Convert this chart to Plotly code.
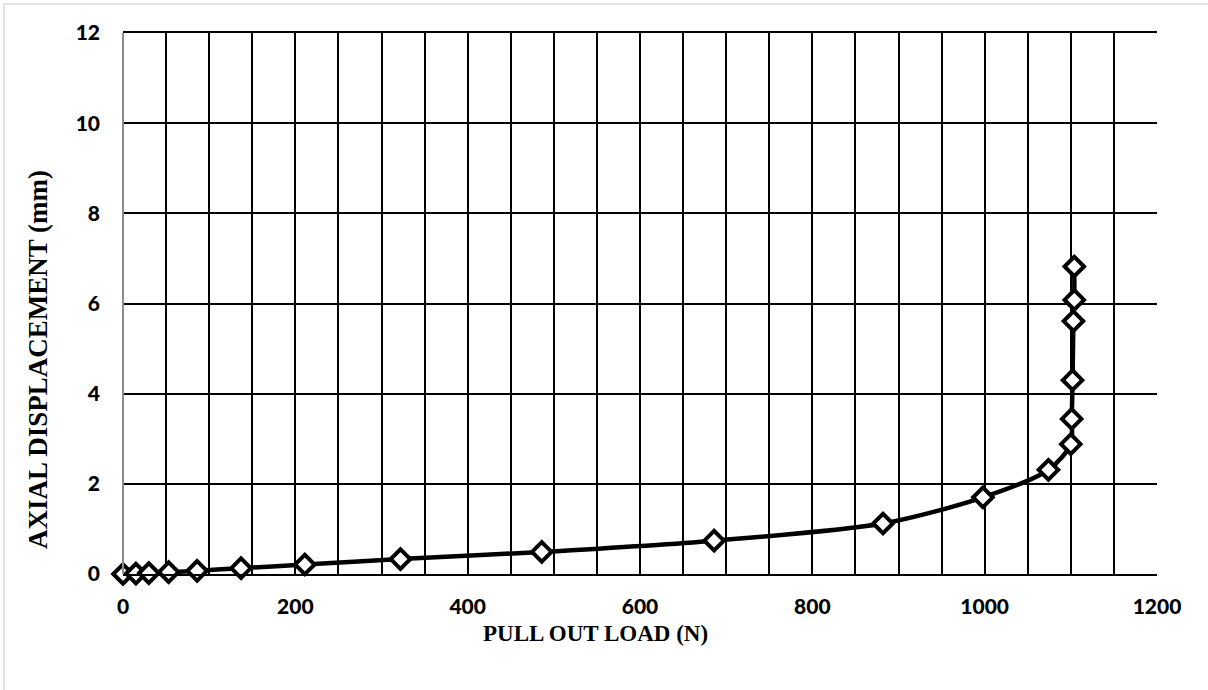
import plotly.graph_objects as go

# Pull-out test: load (N) against axial displacement (mm)
pull_out_load = [0, 15, 30, 53, 86, 137, 211, 322, 486, 686, 882, 998, 1074,
                 1100, 1101, 1102, 1103, 1104, 1104]
axial_displacement = [0, 0.01, 0.02, 0.04, 0.07, 0.13, 0.21, 0.33, 0.49, 0.74,
                      1.12, 1.70, 2.31, 2.88, 3.44, 4.30, 5.61, 6.08, 6.82]

x_ticks = [0, 200, 400, 600, 800, 1000, 1200]
y_ticks = [0, 2, 4, 6, 8, 10, 12]

tick_font = dict(family="Lato, 'Open Sans', sans-serif", size=21, color="black", weight=900)
serif = "'Liberation Serif', 'Times New Roman', serif"

fig = go.Figure()
fig.add_trace(go.Scatter(
    x=pull_out_load,
    y=axial_displacement,
    mode="lines+markers",
    cliponaxis=False,
    line=dict(color="black", width=4.5, shape="spline", smoothing=0.8),
    marker=dict(symbol="diamond", size=15, color="white",
                line=dict(color="black", width=4)),
    showlegend=False,
))

fig.update_layout(
    width=1208, height=690,
    margin=dict(l=123, r=51, t=33, b=116),
    paper_bgcolor="white", plot_bgcolor="white",
    xaxis=dict(
        range=[0, 1200], tickvals=x_ticks, ticktext=[str(v) for v in x_ticks],
        showgrid=True, gridcolor="black", gridwidth=2,
        minor=dict(dtick=50, tick0=0, showgrid=True, gridcolor="black", gridwidth=2),
        zeroline=False, showline=True, linecolor="black", linewidth=2, mirror=True,
        ticks="", ticklabelstandoff=13, tickfont=tick_font,
    ),
    yaxis=dict(
        range=[0, 12], tickvals=y_ticks, ticktext=[str(v) for v in y_ticks],
        showgrid=True, gridcolor="black", gridwidth=2,
        zeroline=False, showline=False,
        ticks="", ticklabelstandoff=22, tickfont=tick_font,
    ),
    shapes=[
        # grey left axis line
        dict(type="line", xref="paper", yref="paper", x0=0, x1=0, y0=0, y1=1,
             line=dict(color="#8c8c8c", width=2)),
        # chart frame
        dict(type="rect", xref="paper", yref="paper",
             x0=-0.1151, x1=1.06, y0=-0.23, y1=1.0536,
             line=dict(color="#d9d9d9", width=1.5), layer="below"),
    ],
    annotations=[
        dict(text="<b>PULL OUT LOAD (N)</b>", xref="paper", yref="paper",
             x=(595 - 123) / 1034, y=(574 - 633) / 541,
             showarrow=False, font=dict(family=serif, size=23, color="black"),
             xanchor="center", yanchor="middle"),
        dict(text="<b>AXIAL DISPLACEMENT (mm)</b>", xref="paper", yref="paper",
             x=(38 - 123) / 1034, y=(574 - 360) / 541, textangle=-90,
             showarrow=False, font=dict(family=serif, size=27, color="black"),
             xanchor="center", yanchor="middle"),
    ],
)

fig.write_html("out.html")
